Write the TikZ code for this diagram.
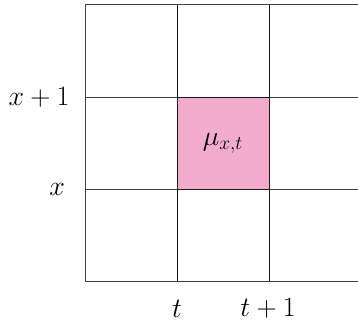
\documentclass[tikz,border=0pt]{standalone}
\usepackage{amsmath,amssymb}
\usepackage{tikz}
\usepackage{xcolor}
\definecolor{cellpink}{RGB}{244,172,206}

\begin{document}
\begin{tikzpicture}[x=2.4cm,y=2.4cm,font=\fontsize{19.5}{23}\selectfont,line cap=butt]
\useasboundingbox (-0.924,-0.478) rectangle (2.967,3.054);
\fill[cellpink] (1,1) rectangle (2,2);
\draw[black!75,line width=0.7pt] (0,0) -- (2.967,0);
\draw[black!75,line width=0.7pt] (0,1) -- (2.967,1);
\draw[black!75,line width=0.7pt] (0,2) -- (2.967,2);
\draw[black!75,line width=0.7pt] (0,3) -- (2.967,3);
\draw[black!75,line width=0.7pt] (0,0) -- (0,3);
\draw[black!90,line width=0.7pt] (1,0) -- (1,3);
\draw[black!90,line width=0.7pt] (2,0) -- (2,3);
\draw[black!90,line width=0.7pt] (1,1) rectangle (2,2);
\node (mu) at (1.5,1.5) {$\mu_{x,t}$};
\node (xone) at (-0.5,2) {$x+1$};
\node (xlab) at (-0.304,1) {$x$};
\node (tlab) at (1,-0.3) {$t$};
\node (tone) at (1.99,-0.3) {$t+1$};
\end{tikzpicture}
\end{document}
